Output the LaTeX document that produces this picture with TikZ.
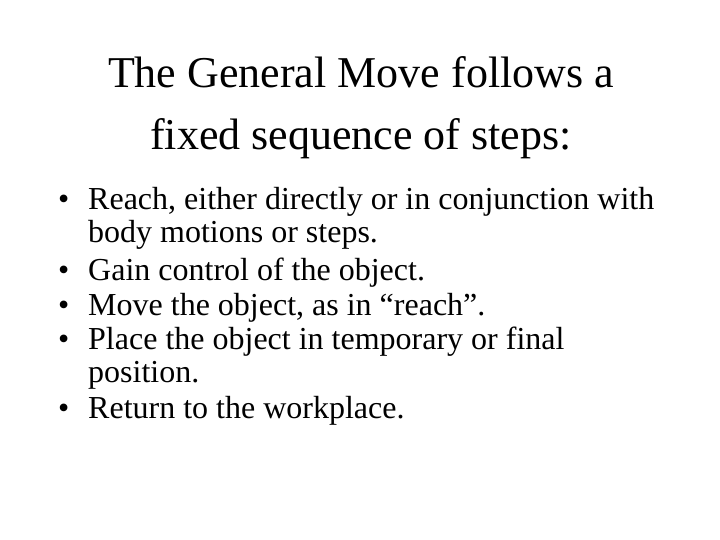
\documentclass[tikz,border=0pt]{standalone}
\usepackage{fontspec}
\setmainfont{Liberation Serif}
\begin{document}
\begin{tikzpicture}[x=1pt,y=-1pt,
  ttl/.style={anchor=base,font=\fontsize{44}{50}\selectfont,inner sep=0},
  txt/.style={anchor=base west,font=\fontsize{32}{34}\selectfont,inner sep=0},
  bul/.style={anchor=base west,font=\fontsize{32}{34}\selectfont,inner sep=0}]
\useasboundingbox (0,0) rectangle (720,540);
\node[ttl] (t1) at (361,88) {The General Move follows a};
\node[ttl] (t2) at (361,150) {fixed sequence of steps:};
\foreach \y/\s [count=\i] in {210/{Reach, either directly or in conjunction with},280/{Gain control of the object.},315/{Move the object, as in ``reach''.},349/{Place the object in temporary or final},418/{Return to the workplace.}}{
  \node[bul] (b\i) at (58,\y) {•};
  \node[txt] (l\i) at (88,\y) {\s};
}
\node[txt] (c1) at (88,243) {body motions or steps.};
\node[txt] (c2) at (88,382) {position.};
\end{tikzpicture}
\end{document}
